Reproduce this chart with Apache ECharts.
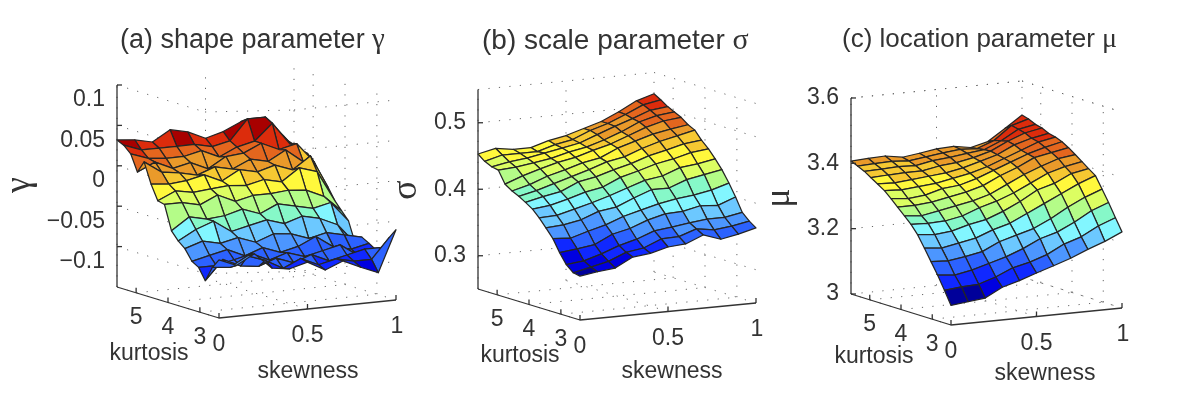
<!DOCTYPE html>
<html><head><meta charset="utf-8">
<style>html,body{margin:0;padding:0;background:#fff}#c{width:1200px;height:419px}</style>
<script src="https://cdn.jsdelivr.net/npm/echarts@6/dist/echarts.min.js"></script></head>
<body><div id="c"></div>
<script>
const skewness=[0,0.1,0.2,0.3,0.4,0.5,0.6,0.7,0.8,0.9,1];
const kurtosis=[2.4,2.61,2.83,3.04,3.25,3.47,3.68,3.89,4.11,4.32,4.53,4.75,4.96,5.17,5.39,5.6];
// rows: kurtosis ascending; columns: skewness ascending
const gammaValues=[
[-.078,-.087,-.075,-.095,-.098,-.092,-.104,-.095,-.105,-.114,-.063],
[-.09,-.092,-.08,-.088,-.1,-.09,-.1,-.095,-.1,-.1,-.075],
[-.109,-.085,-.095,-.098,-.09,-.098,-.09,-.1,-.095,-.09,-.09],
[-.095,-.095,-.09,-.085,-.095,-.088,-.095,-.09,-.085,-.1,-.095],
[-.09,-.085,-.08,-.09,-.082,-.09,-.085,-.075,-.09,-.095,-.09],
[-.077,-.07,-.075,-.07,-.078,-.07,-.072,-.08,-.075,-.08,-.085],
[-.07,-.058,-.05,-.065,-.06,-.055,-.062,-.055,-.06,-.07,-.095],
[-.06,-.045,-.05,-.048,-.042,-.05,-.04,-.045,-.05,-.045,-.07],
[-.03,-.03,-.035,-.025,-.035,-.03,-.03,-.028,-.03,-.04,-.06],
[-.028,-.018,-.022,-.02,-.018,-.02,-.015,-.02,-.005,-.012,-.05],
[-.01,-.012,-.01,-.005,-.015,-.003,-.008,-.002,-.01,.005,-.036],
[.015,0,-.003,-.008,0,-.005,.005,0,.012,-.005,-.025],
[0,.01,0,.005,-.005,.008,.01,.02,.01,.015,-.01],
[.02,.012,.01,.01,.015,.005,.015,.02,.04,.012,-.002],
[.028,.02,.02,.02,.02,.015,.02,.045,.045,.02,-.005],
[.032,.03,.025,.038,.033,.023,.029,.039,.035,.02,.004]];
const sigmaValues=[
[.316,.32,.323,.337,.34,.347,.349,.36,.351,.356,.363],
[.318,.324,.33,.341,.345,.356,.357,.366,.362,.365,.37],
[.327,.33,.338,.348,.355,.365,.368,.372,.375,.375,.38],
[.342,.345,.349,.362,.368,.378,.385,.386,.392,.39,.40],
[.36,.358,.366,.373,.383,.39,.397,.402,.405,.41,.418],
[.373,.375,.38,.39,.394,.405,.415,.415,.425,.43,.435],
[.385,.386,.393,.40,.408,.417,.426,.43,.44,.443,.448],
[.395,.398,.405,.413,.418,.43,.437,.445,.45,.457,.46],
[.402,.408,.413,.425,.43,.438,.445,.454,.46,.467,.47],
[.408,.414,.422,.43,.438,.447,.452,.462,.47,.476,.482],
[.413,.42,.43,.437,.445,.45,.462,.47,.478,.483,.487],
[.42,.43,.438,.445,.45,.458,.465,.475,.485,.492,.495],
[.438,.44,.444,.448,.455,.46,.468,.478,.49,.497,.50],
[.44,.445,.448,.453,.458,.463,.473,.483,.492,.502,.505],
[.445,.452,.452,.452,.46,.465,.476,.484,.495,.507,.512],
[.453,.459,.455,.455,.463,.468,.476,.484,.496,.51,.518]];
const muValues=[
[3.06,3.066,3.072,3.10,3.115,3.133,3.15,3.168,3.19,3.209,3.233],
[3.10,3.105,3.108,3.125,3.148,3.16,3.178,3.205,3.222,3.25,3.27],
[3.14,3.135,3.145,3.16,3.175,3.195,3.22,3.235,3.26,3.29,3.31],
[3.175,3.172,3.18,3.19,3.215,3.23,3.245,3.27,3.30,3.325,3.345],
[3.21,3.205,3.215,3.225,3.245,3.26,3.285,3.31,3.335,3.36,3.38],
[3.245,3.24,3.245,3.26,3.27,3.29,3.315,3.345,3.36,3.385,3.395],
[3.27,3.268,3.27,3.28,3.30,3.315,3.335,3.36,3.385,3.40,3.41],
[3.29,3.285,3.295,3.305,3.315,3.33,3.355,3.38,3.40,3.418,3.425],
[3.31,3.31,3.315,3.325,3.335,3.35,3.375,3.395,3.42,3.43,3.44],
[3.33,3.325,3.33,3.345,3.35,3.365,3.385,3.405,3.425,3.44,3.452],
[3.348,3.345,3.35,3.355,3.365,3.375,3.39,3.41,3.43,3.45,3.46],
[3.362,3.36,3.365,3.37,3.375,3.385,3.40,3.415,3.44,3.455,3.465],
[3.375,3.378,3.38,3.38,3.39,3.395,3.405,3.42,3.445,3.465,3.475],
[3.388,3.39,3.392,3.39,3.40,3.405,3.412,3.418,3.44,3.47,3.48],
[3.398,3.40,3.402,3.398,3.405,3.412,3.418,3.415,3.435,3.475,3.49],
[3.407,3.41,3.412,3.403,3.41,3.418,3.421,3.412,3.425,3.46,3.496]];
const palette=['#00009a','#0000e0','#1028ff','#2c62ff','#4c96ff','#6cc8ff','#82f6ff','#86f8c8','#b4fc88','#dcfe62','#fff83c','#f6c832','#ea9a2a','#e4661e','#dc2c0c','#a80000'];
const gammaTicks=[-0.1,-0.05,0,0.05,0.1], sigmaTicks=[0.3,0.4,0.5], muTicks=[3,3.2,3.4,3.6];
const gammaTickLabels=['\u22120.1','\u22120.05','0','0.05','0.1'], sigmaTickLabels=['0.3','0.4','0.5'], muTickLabels=['3','3.2','3.4','3.6'];
const skewTicks=[0,0.5,1], skewTickLabels=['0','0.5','1'];
const kurtTicks=[3,4,5], kurtTickLabels=['3','4','5'];
const titles=['(a) shape parameter ','(b) scale parameter ','(c) location parameter '];
const greek=['\u03b3','\u03c3','\u03bc'];

const panels=[
 {vals:gammaValues,ticks:gammaTicks,labels:gammaTickLabels,zmin:-.15,zmax:.1,scale:808,f:[219,318],sv:[177,-18],kv:[-102,-31],dy:15,kl:[149,354],sl:[308,372],gl:[20,185],tx:120,ts:27,clim:[-.125,.037],bend:[[0,0],[88,27],[177,25],[279,15]]},
 {vals:sigmaValues,ticks:sigmaTicks,labels:sigmaTickLabels,zmin:.25,zmax:.55,scale:665,f:[580,320],sv:[176,-17],kv:[-102,-31],dy:0,kl:[520,356],sl:[672,372],gl:[407,190],tx:482,ts:28,clim:[.31,.53]},
 {vals:muValues,ticks:muTicks,labels:muTickLabels,zmin:3,zmax:3.6,scale:326.7,f:[951,325],sv:[171,-17],kv:[-100,-31],dy:0,kl:[874,357],sl:[1045,374],gl:[780,198],tx:842,ts:26,clim:[3.06,3.51]}
];
const kMin=2.4,kMax=5.6,FONT='"Liberation Sans",Arial,sans-serif',INK='#333';
function proj(p,s,k,z){
 const t=(k-kMin)/(kMax-kMin);
 return [p.f[0]+p.sv[0]*s+p.kv[0]*t, p.f[1]+p.sv[1]*s+p.kv[1]*t-(z-p.zmin)*p.scale];
}
function surfaceSeries(p){
 const lo=p.clim[0],hi=p.clim[1],data=[];
 for(let j=kurtosis.length-2;j>=0;j--)for(let i=skewness.length-2;i>=0;i--)data.push([i,j]);
 return {type:'custom',coordinateSystem:'cartesian2d',z:3,silent:true,clip:false,data,encode:{x:0,y:1},
  renderItem(_,api){
   const i=api.value(0),j=api.value(1);
   const c=[[i,j],[i+1,j],[i+1,j+1],[i,j+1]];
   const zs=c.map(q=>p.vals[q[1]][q[0]]);
   const m=(zs[0]+zs[1]+zs[2]+zs[3])/4;
   const idx=Math.max(0,Math.min(palette.length-1,Math.floor((m-lo)/(hi-lo)*palette.length)));
   const pts=c.map((q,n)=>api.coord(proj(p,skewness[q[0]],kurtosis[q[1]],zs[n])));
   return {type:'polygon',shape:{points:pts},style:{fill:palette[idx],stroke:'#252525',lineWidth:1.25,lineJoin:'round'}};
  }};
}
function frameSeries(p,dotted){
 return {type:'custom',coordinateSystem:'cartesian2d',z:dotted?1:5,silent:true,clip:false,data:[[0,0]],encode:{x:0,y:1},
  renderItem(_,api){
   const ch=[];
   const L=(a,b,style)=>{const A=api.coord(a),B=api.coord(b);ch.push({type:'line',shape:{x1:A[0],y1:A[1],x2:B[0],y2:B[1]},style});};
   const T=(pos,text,o)=>{const A=api.coord(pos);ch.push({type:'text',x:A[0],y:A[1],style:Object.assign({text,fill:INK,font:'23px '+FONT,textAlign:'center',textVerticalAlign:'middle'},o||{})});};
   const P=(s,k,z)=>proj(p,s,k,z);
   if(dotted){
    const d={stroke:'#666',lineWidth:1,lineDash:[1.2,9.3]};
    p.ticks.forEach(z=>{
     if(p.bend){const q=P(0,kMax,z);
       for(let n=0;n<p.bend.length-1;n++)L([q[0]+p.bend[n][0],q[1]+p.bend[n][1]],[q[0]+p.bend[n+1][0],q[1]+p.bend[n+1][1]],d);
     } else {L(P(0,kMax,z),P(1,kMax,z),d);L(P(1,kMax,z),P(1,kMin,z),d);}
    });
    if(!p.bend){L(P(0,kMax,p.zmax),P(1,kMax,p.zmax),d);L(P(1,kMax,p.zmax),P(1,kMin,p.zmax),d);}
    skewTicks.forEach(s=>{L(P(s,kMin,p.zmin),P(s,kMax,p.zmin),d);L(P(s,kMax,p.zmin),P(s,kMax,p.zmax),d);});
    kurtTicks.forEach(k=>{L(P(0,k,p.zmin),P(1,k,p.zmin),d);L(P(1,k,p.zmin),P(1,k,p.zmax),d);});
   } else {
    const a={stroke:'#333',lineWidth:1.3};
    L(P(0,kMin,p.zmin),P(1,kMin,p.zmin),a);
    L(P(0,kMin,p.zmin),P(0,kMax,p.zmin),a);
    L(P(0,kMax,p.zmin),P(0,kMax,p.zmax),a);
    p.ticks.forEach((z,n)=>{const q=P(0,kMax,z);L(q,[q[0]+5,q[1]],a);
      T([q[0]-12,q[1]+p.dy],p.labels[n],{textAlign:'right'});});
    skewTicks.forEach((s,n)=>{const q=P(s,kMin,p.zmin);L(q,[q[0],q[1]-5],a);T([q[0]+(s==1?1:0),q[1]+27],skewTickLabels[n]);});
    kurtTicks.forEach((k,n)=>{const q=P(0,k,p.zmin);L(q,[q[0],q[1]-5],a);T([q[0],q[1]+25],kurtTickLabels[n]);});
    T(p.kl,'kurtosis');T(p.sl,'skewness');
   }
   return {type:'group',children:ch};
  }};
}
const idx=[0,1,2];
const option={animation:false,
 grid:{left:0,right:0,top:0,bottom:0},
 xAxis:{type:'value',min:0,max:1200,show:false},
 yAxis:{type:'value',min:0,max:419,inverse:true,show:false},
 title:idx.map(i=>({text:titles[i]+'{g|'+greek[i]+'}',left:panels[i].tx,top:26,padding:0,
   textStyle:{fontFamily:FONT,fontSize:panels[i].ts,fontWeight:'normal',color:INK,rich:{g:{fontFamily:'"Liberation Serif",serif',fontSize:panels[i].ts+2,color:INK}}}})),
 graphic:idx.map(i=>({type:'text',x:panels[i].gl[0],y:panels[i].gl[1],rotation:Math.PI/2,silent:true,
   style:{text:greek[i],font:'36px "Liberation Serif",serif',fill:INK,textAlign:'center',textVerticalAlign:'middle'}})),
 series:panels.flatMap(p=>[frameSeries(p,true),surfaceSeries(p),frameSeries(p,false)])
};
echarts.init(document.getElementById('c'),null,{renderer:'canvas'}).setOption(option);
</script></body></html>
